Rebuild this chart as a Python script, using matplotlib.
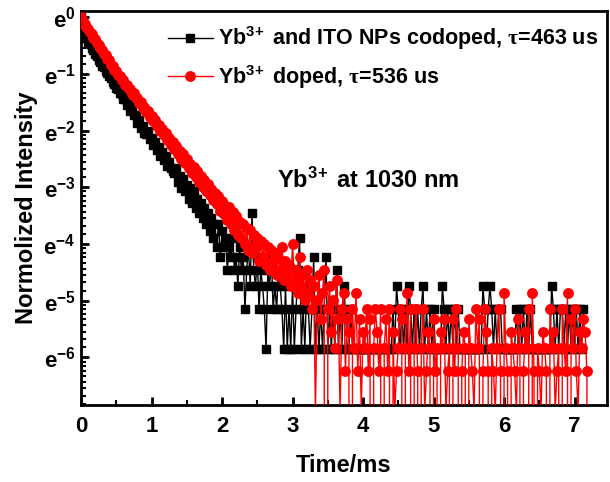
import numpy as np
import matplotlib
matplotlib.use("Agg")
import matplotlib.pyplot as plt
from matplotlib.ticker import FixedLocator, FixedFormatter, MultipleLocator, NullFormatter

plt.rcParams['font.family'] = ['Liberation Sans', 'DejaVu Sans']
plt.rcParams['font.weight'] = 'bold'
plt.rcParams['mathtext.fontset'] = 'custom'
plt.rcParams['mathtext.rm'] = 'Liberation Sans:bold'
plt.rcParams['mathtext.bf'] = 'Liberation Sans:bold'
plt.rcParams['mathtext.it'] = 'Liberation Serif:bold'
plt.rcParams['mathtext.default'] = 'rm'

# sampling interval of the decay traces (ms)
time_step = 0.025

# Yb3+ and ITO NPs codoped: photon counts, normalised by black_norm
black_norm = 345.0
black_counts = [
    345, 262, 247, 238, 222, 214, 199, 193, 180, 175, 162, 158, 147, 143, 133, 130,
    123, 119, 110, 107, 99, 98, 90, 89, 81, 82, 74, 75, 66, 68, 61, 62,
    53, 56, 49, 51, 45, 44, 46, 40, 41, 36, 38, 33, 35, 30, 32, 28,
    30, 25, 27, 24, 23, 22, 24, 19, 21, 17, 20, 16, 18, 14, 17, 13,
    16, 12, 14, 11, 13, 10, 12, 9, 11, 8, 10, 7, 9, 6, 9, 5,
    8, 6, 7, 4, 6, 5, 7, 4, 5,
    3, 6, 4, 5, 2, 4, 6, 3, 11, 4, 3, 5, 2, 4, 3, 2, 1, 4, 3, 5,
    2, 3, 2, 4, 3, 2, 1, 3, 1, 2, 1, 3, 1, 2, 4, 7, 1, 2, 1, 3,
    2, 1, 2, 5, 1,
    2, 1, 2, 1, 2, 5, 1, 2, 1, 2, 1, 4, 1, 2, 1, 3,
    2, 1, 1, 2, 1, 1, 1, 1, 1, 1, 1, 1, 1, 1, 1, 1,
    1, 1, 1, 1, 1, 1, 1, 1, 1, 1, 1, 2, 1, 3, 2, 1,
    2, 1, 2, 1, 3, 2, 1, 2, 1, 2, 1, 2, 3, 1, 2, 1,
    2, 1, 2, 1, 1, 1, 1, 3, 2, 1, 2, 1, 2, 1, 2, 1,
    2, 1, 1, 1, 1, 1, 1, 1, 1, 1, 1, 1, 1, 1, 3, 2,
    1, 2, 3, 2, 1, 2, 1, 2, 2, 1, 1, 1, 1, 1, 1, 1,
    1, 2, 1, 2, 1, 2, 1, 2, 1, 2, 1, 1, 1, 1, 1, 1,
    1, 1, 1, 1, 1, 3, 2, 1, 2, 1, 2, 2, 1, 2, 1, 2,
    1, 2, 1, 2, 1, 2, 1, 2,
]

# Yb3+ doped: photon counts, normalised by red_norm
red_norm = 1030.0
red_counts = [
    1030, 958, 921, 868, 841, 789, 766, 718, 698, 652, 636, 594, 580, 540, 528, 490,
    481, 446, 437, 407, 398, 370, 365, 340, 338, 314, 312, 289, 290, 267, 269, 246,
    248, 227, 230, 209, 212, 193, 196, 178, 181, 164, 168, 151, 155, 139, 143, 129,
    133, 119, 123, 109, 114, 101, 106, 93, 98, 85, 92, 79, 85, 72, 78, 66,
    73, 61, 68, 56, 63, 52, 58, 48, 54, 45, 50, 41, 46, 38, 44, 34,
    40, 32, 37, 29, 36, 27, 33, 24, 31, 22, 28, 21, 27, 19, 25, 17,
    24, 16, 22, 18, 21, 14, 20, 15, 19, 13, 18, 12, 17, 14, 16, 11,
    15, 12, 18, 10, 14, 11, 13, 9, 19, 10, 12, 8, 15, 9, 11, 7,
    12, 8, 10, 6, 9, 1, 7, 11, 5, 8, 12, 0, 6, 9, 4, 7,
    3, 10, 5, 1, 6, 8, 2, 5, 4, 0, 6, 3, 8, 2, 5, 1,
    4,
    3, 6, 2, 5, 0, 3, 6, 4, 2, 6, 0, 3, 5, 2, 6, 0,
    4, 1, 2, 3, 6, 5, 0, 3, 8, 2, 6, 0, 3, 6, 2, 0,
    3, 6, 1, 2, 4, 3, 0, 5, 2, 3, 0, 4, 3, 5, 1, 2,
    3, 0, 5, 2, 6, 3, 0, 2, 4, 3, 0, 5, 3, 2, 1, 6,
    3, 5, 0, 2, 6, 4, 2, 0, 3, 2, 1, 3, 6, 2, 0, 8,
    3, 2, 0, 4, 3, 2, 1, 5, 3, 0, 2, 4, 3, 6, 0, 8,
    2, 0, 3, 2, 1, 4, 3, 2, 0, 6, 3, 4, 1, 2, 3, 0,
    6, 3, 2, 8, 0, 5, 3, 6, 2, 1, 4, 3, 5, 4, 2, 0,
]

black_label = r'Yb$^{3\!+}$ and ITO NPs codoped, $\mathit{\tau}$=463 us'
red_label = r'Yb$^{3\!+}$ doped, $\mathit{\tau}$=536 us'
annotation = r'Yb$^{3\!+}$ at 1030 nm'
x_ticks = [0, 1, 2, 3, 4, 5, 6, 7]
y_exponents = [0, -1, -2, -3, -4, -5, -6]

t_black = np.arange(len(black_counts)) * time_step
t_red = np.arange(len(red_counts)) * time_step
y_black = np.array(black_counts) / black_norm
y_red = np.array(red_counts) / red_norm

fig = plt.figure(figsize=(6.1, 4.82), dpi=100)
ax = fig.add_axes([81 / 610, 1 - 405 / 482, 526 / 610, 394 / 482])
ax.set_yscale('log', base=np.e, nonpositive='clip')

ax.plot(t_black, y_black, '-', color='black', lw=1.0, marker='s', ms=5.6,
        mfc='black', mec='black', label=black_label, zorder=2)
ax.plot(t_red, y_red, '-', color='red', lw=1.0, marker='o', ms=6.8,
        mfc='red', mec='red', label=red_label, zorder=3)

ax.set_xlim(0, 7.46)
ax.set_ylim(np.exp(-6.84), np.exp(0.11))

ax.xaxis.set_major_locator(FixedLocator(x_ticks))
ax.xaxis.set_major_formatter(FixedFormatter([str(v) for v in x_ticks]))
ax.xaxis.set_minor_locator(MultipleLocator(0.5))

ymaj = [np.exp(e) for e in y_exponents]
ax.yaxis.set_major_locator(FixedLocator(ymaj))
ax.yaxis.set_major_formatter(FixedFormatter(
    [r'$\mathrm{e}^{\mathrm{%d}}$' % e for e in y_exponents]))
yminor = []
for e in range(1, 8):
    for k in range(1, 9):
        yminor.append(np.exp(-e) * (1 + k * (np.e - 1) / 9))
ax.yaxis.set_minor_locator(FixedLocator(yminor))
ax.yaxis.set_minor_formatter(NullFormatter())

for s in ax.spines.values():
    s.set_linewidth(2.0)
ax.tick_params(axis='both', which='major', direction='in', length=6, width=2,
               top=False, right=False)
ax.tick_params(axis='both', which='minor', direction='in', length=3.5, width=1.5,
               top=False, right=False)
ax.tick_params(axis='x', which='major', labelsize=16, pad=8)
ax.tick_params(axis='y', which='major', labelsize=16, pad=4)
for lab in ax.get_xticklabels() + ax.get_yticklabels():
    lab.set_fontweight('bold')

ax.set_xlabel('Time/ms', fontsize=17, fontweight='bold', labelpad=12)
ax.set_ylabel('Normolized Intensity', fontsize=17, fontweight='bold', labelpad=4)

ax.text(0.373, 0.571, annotation, transform=ax.transAxes, fontsize=17,
        fontweight='bold', ha='left', va='center')

leg = ax.legend(loc='upper left', bbox_to_anchor=(0.165, 0.966), frameon=False,
                fontsize=15.5, handlelength=2.1, handletextpad=0.23,
                labelspacing=0.5, borderpad=0, borderaxespad=0, numpoints=1)
for txt in leg.get_texts():
    txt.set_fontweight('bold')

fig.savefig('out.png', dpi=100)
